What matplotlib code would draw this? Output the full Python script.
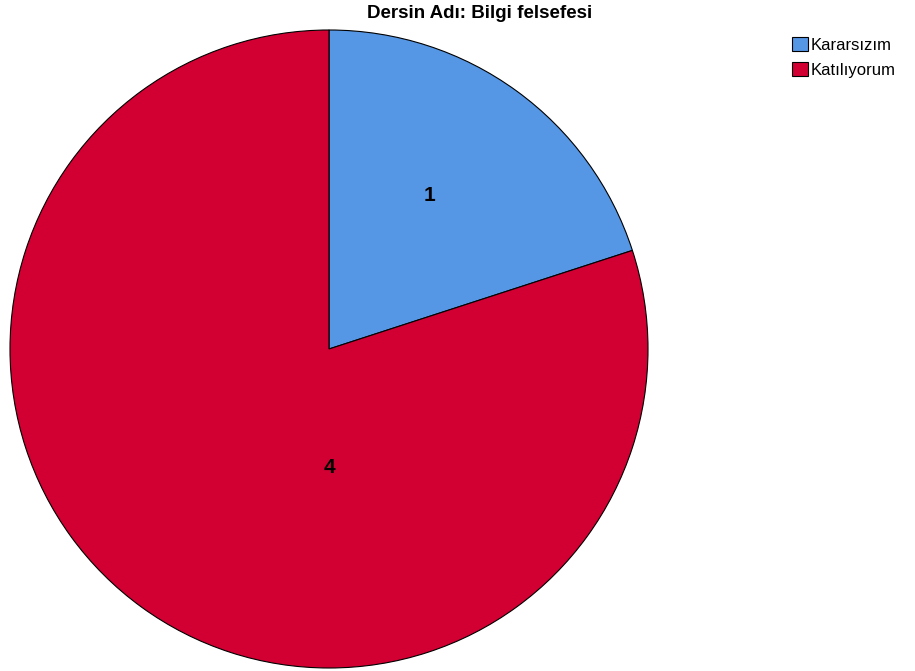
import matplotlib.pyplot as plt
from matplotlib.patches import Patch
import numpy as np

# --- data ---
title = "Dersin Adı: Bilgi felsefesi"
categories = ["Kararsızım", "Katılıyorum"]
counts = [1, 4]
colors = ["#5596E5", "#D20032"]

plt.rcParams["font.family"] = ["Liberation Sans", "DejaVu Sans"]

fig = plt.figure(figsize=(9.15, 6.71), dpi=100)
ax = fig.add_axes([10 / 915, 3 / 671, 638 / 915, 638 / 671])

wedges, texts = ax.pie(counts, colors=colors, startangle=90, counterclock=False,
                       radius=1.0, labels=[str(c) for c in counts], labeldistance=0.575,
                       wedgeprops=dict(edgecolor="black", linewidth=0.8),
                       textprops=dict(fontsize=15, color="black", fontweight="bold"))
# SPSS puts the label a bit off the mid angle; large slice label sits below the centre
texts[0].set_position((0.315, 0.48))
texts[1].set_position((0, -0.37))
for t in texts:
    t.set_ha("center")
    t.set_va("center")
ax.set_xlim(-1, 1)
ax.set_ylim(-1, 1)
ax.set_aspect("equal")

fig.text(480 / 915, 1 - 14 / 671, title, ha="center", va="center",
         fontsize=13.5, fontweight="bold")

# --- legend ---
handles = [Patch(facecolor=c, edgecolor="black", linewidth=0.8) for c in colors]
fig.legend(handles, categories, loc="upper left", bbox_to_anchor=(792 / 915, 1 - 37 / 671),
           frameon=False, fontsize=12, handlelength=0.95, handleheight=0.95,
           handletextpad=0.15, labelspacing=0.55, borderpad=0, borderaxespad=0)

fig.savefig("out.png", dpi=100)
